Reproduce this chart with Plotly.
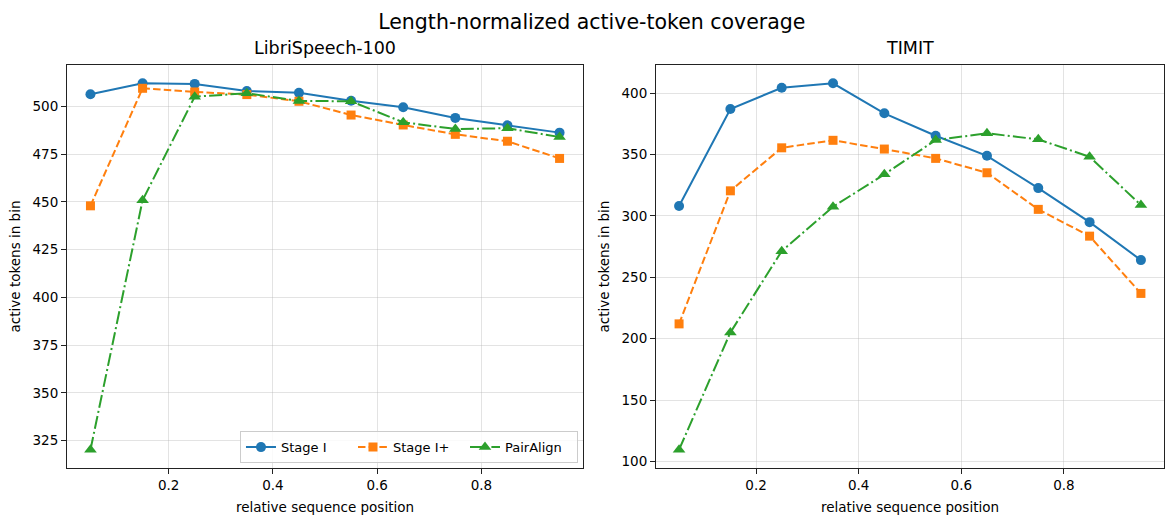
import plotly.graph_objects as go

# Relative position of each bin along the sequence
positions = [0.05, 0.15, 0.25, 0.35, 0.45, 0.55, 0.65, 0.75, 0.85, 0.95]

# LibriSpeech-100: active tokens per bin
libri_stage1 = [506.3, 512.0, 511.7, 508.0, 507.0, 502.9, 499.5, 493.9, 490.0, 486.2]
libri_stage1_plus = [447.9, 509.4, 507.5, 506.1, 502.6, 495.4, 490.2, 485.3, 481.7, 472.7]
libri_pairalign = [320.3, 450.8, 505.0, 506.8, 502.8, 502.6, 491.6, 488.1, 488.5, 483.9]

# TIMIT: active tokens per bin
timit_stage1 = [308.0, 387.0, 404.3, 407.9, 383.5, 365.2, 348.9, 322.6, 294.9, 264.0]
timit_stage1_plus = [212.1, 320.4, 355.4, 361.5, 354.4, 346.8, 335.1, 305.3, 283.5, 236.9]
timit_pairalign = [109.7, 205.1, 271.3, 307.4, 333.8, 361.7, 367.2, 362.3, 348.1, 308.8]

x_ticks = [0.2, 0.4, 0.6, 0.8]
libri_y_ticks = [325, 350, 375, 400, 425, 450, 475, 500]
timit_y_ticks = [100, 150, 200, 250, 300, 350, 400]

series_names = ["Stage I", "Stage I+", "PairAlign"]
colors = ["#1f77b4", "#ff7f0e", "#2ca02c"]
symbols = ["circle", "square", "triangle-up"]
marker_sizes = [10, 9, 11]
dashes = ["solid", "7.5px,3.2px", "13px,3.2px,2px,3.2px"]

FONT = "DejaVu Sans"


def padded(values, frac=0.05):
    lo, hi = min(values), max(values)
    pad = (hi - lo) * frac
    return [lo - pad, hi + pad]


fig = go.Figure()

panels = [
    ("x", "y", [libri_stage1, libri_stage1_plus, libri_pairalign], True),
    ("x2", "y2", [timit_stage1, timit_stage1_plus, timit_pairalign], False),
]

for xa, ya, data, show in panels:
    for name, vals, c, sym, ms, dash in zip(series_names, data, colors, symbols, marker_sizes, dashes):
        fig.add_trace(go.Scatter(
            x=positions, y=vals, name=name, xaxis=xa, yaxis=ya,
            mode="lines+markers",
            line=dict(color=c, width=2, dash=dash),
            marker=dict(color=c, symbol=sym, size=ms, line=dict(width=0)),
            showlegend=show,
        ))

axis_common = dict(
    showline=True, linecolor="#222222", linewidth=1, mirror=True,
    ticks="outside", ticklen=5, tickwidth=1, tickcolor="#222222",
    showgrid=True, gridcolor="rgba(176,176,176,0.35)", gridwidth=1,
    zeroline=False, tickfont=dict(family=FONT, size=13.5, color="black"),
)

title_font = dict(family=FONT, size=13.5, color="black")
x_range = padded(positions)
fig.update_layout(
    xaxis=dict(domain=[0, 0.4704], range=x_range, tickvals=x_ticks,
               ticktext=[str(v) for v in x_ticks], anchor="y",
               title=dict(text="relative sequence position", standoff=10, font=title_font),
               **axis_common),
    yaxis=dict(domain=[0, 1], range=padded(libri_stage1 + libri_stage1_plus + libri_pairalign),
               tickvals=libri_y_ticks, anchor="x",
               title=dict(text="active tokens in bin", standoff=8, font=title_font),
               **axis_common),
    xaxis2=dict(domain=[0.5369, 1], range=x_range, tickvals=x_ticks,
                ticktext=[str(v) for v in x_ticks], anchor="y2",
                title=dict(text="relative sequence position", standoff=10, font=title_font),
                **axis_common),
    yaxis2=dict(domain=[0, 1], range=padded(timit_stage1 + timit_stage1_plus + timit_pairalign),
                tickvals=timit_y_ticks, anchor="x2",
                title=dict(text="active tokens in bin", standoff=8, font=title_font),
                **axis_common),
    width=1165, height=516,
    margin=dict(l=67, r=1, t=65, b=48),
    paper_bgcolor="white", plot_bgcolor="white",
    font=dict(family=FONT, color="black"),
    title=dict(text="Length-normalized active-token coverage", x=0.508, xanchor="center",
               y=1 - 22 / 516, yanchor="middle", xref="container",
               font=dict(family=FONT, size=20.5, color="black")),
    legend=dict(orientation="h", x=0.4658, xanchor="right", y=0.012, yanchor="bottom",
                bgcolor="rgba(255,255,255,0.8)", bordercolor="#cccccc", borderwidth=1,
                font=dict(family=FONT, size=13, color="black"),
                itemwidth=30, entrywidth=67, tracegroupgap=0),
    annotations=[
        dict(text="LibriSpeech-100", x=0.4704 / 2, xref="paper", xanchor="center",
             y=1, yref="paper", yanchor="bottom", yshift=5, showarrow=False,
             font=dict(family=FONT, size=17.5, color="black")),
        dict(text="TIMIT", x=(0.5369 + 1) / 2, xref="paper", xanchor="center",
             y=1, yref="paper", yanchor="bottom", yshift=5, showarrow=False,
             font=dict(family=FONT, size=17.5, color="black")),
    ],
)

fig.write_html("out.html")
